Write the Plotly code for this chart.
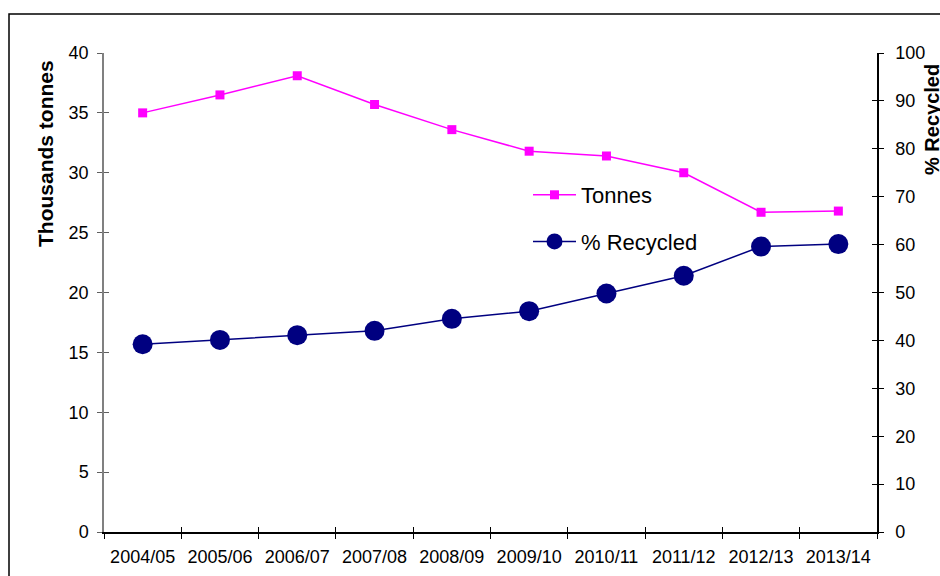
import plotly.graph_objects as go

# Municipal waste: tonnage collected and share recycled, by financial year
years = ["2004/05", "2005/06", "2006/07", "2007/08", "2008/09",
         "2009/10", "2010/11", "2011/12", "2012/13", "2013/14"]
tonnes_thousands = [35.0, 36.5, 38.1, 35.7, 33.6, 31.8, 31.4, 30.0, 26.7, 26.8]
pct_recycled = [39.2, 40.1, 41.1, 42.0, 44.5, 46.1, 49.8, 53.5, 59.6, 60.1]

left_ticks = list(range(0, 41, 5))
right_ticks = list(range(0, 101, 10))

W, H = 940, 576
ML, MR, MT, MB = 104, 63, 53, 44
FONT = "Liberation Sans, Arial, sans-serif"

fig = go.Figure()

fig.add_trace(go.Scatter(
    x=years, y=tonnes_thousands, name="Tonnes", mode="lines+markers",
    line=dict(color="#FF00FF", width=1.5),
    marker=dict(symbol="square", size=9, color="#FF00FF"),
    legendgroup="a", xaxis="x", yaxis="y",
))
fig.add_trace(go.Scatter(
    x=years, y=pct_recycled, name="% Recycled", mode="lines+markers",
    line=dict(color="#000080", width=1.5),
    marker=dict(symbol="circle", size=20, color="#000080"),
    legendgroup="b", xaxis="x", yaxis="y2",
))

tick_font = dict(family=FONT, size=18, color="#000000")
n = len(years)
boundaries = [i - 0.5 for i in range(n + 1)]

fig.update_layout(
    width=W, height=H,
    margin=dict(l=ML, r=MR, t=MT, b=MB, autoexpand=False),
    paper_bgcolor="white", plot_bgcolor="white",
    font=dict(family=FONT, color="#000000"),
    showlegend=True,
    legend=dict(
        x=(528 - ML) / (W - ML - MR), y=(H - MB - 174) / (H - MT - MB),
        xanchor="left", yanchor="top",
        font=dict(family=FONT, size=22, color="#000000"),
        bgcolor="rgba(0,0,0,0)", borderwidth=0,
        itemwidth=43, tracegroupgap=15, traceorder="grouped",
    ),
    xaxis=dict(
        type="category", categoryorder="array", categoryarray=years,
        range=[-0.5, n - 0.5], tickson="boundaries", automargin=False,
        ticks="outside", ticklen=5, tickcolor="#000000", tickwidth=1,
        showline=True, linecolor="#000000", linewidth=1.5,
        showgrid=False, zeroline=False,
        tickfont=tick_font, ticklabelstandoff=8,
    ),
    # inner half of the crossing tick marks on the category axis
    xaxis2=dict(
        overlaying="x", side="bottom", anchor="y", range=[-0.5, n - 0.5],
        tickmode="array", tickvals=boundaries, showticklabels=False,
        ticks="inside", ticklen=5, tickcolor="#000000", tickwidth=1,
        showline=False, showgrid=False, zeroline=False, automargin=False,
    ),
    yaxis=dict(
        range=[0, 40], tickmode="array", tickvals=left_ticks, automargin=False,
        ticks="outside", ticklen=5, tickcolor="#606060", tickwidth=1,
        showline=True, linecolor="#808080", linewidth=1.5,
        showgrid=False, zeroline=False,
        tickfont=tick_font, ticklabelstandoff=5,
    ),
    yaxis3=dict(
        overlaying="y", side="left", anchor="x", range=[0, 40],
        tickmode="array", tickvals=left_ticks, showticklabels=False,
        ticks="inside", ticklen=5, tickcolor="#606060", tickwidth=1,
        showline=False, showgrid=False, zeroline=False, automargin=False,
    ),
    yaxis2=dict(
        overlaying="y", side="right", anchor="x", range=[0, 100],
        tickmode="array", tickvals=right_ticks, automargin=False,
        ticks="outside", ticklen=5, tickcolor="#000000", tickwidth=1,
        showline=True, linecolor="#000000", linewidth=1.5,
        showgrid=False, zeroline=False,
        tickfont=tick_font, ticklabelstandoff=8,
    ),
    yaxis4=dict(
        overlaying="y", side="right", anchor="x", range=[0, 100],
        tickmode="array", tickvals=right_ticks, showticklabels=False,
        ticks="inside", ticklen=5, tickcolor="#000000", tickwidth=1,
        showline=False, showgrid=False, zeroline=False, automargin=False,
    ),
)

# invisible helpers so the overlay axes are drawn
fig.add_trace(go.Scatter(x=[0], y=[0], xaxis="x2", yaxis="y3", mode="none",
                         showlegend=False, hoverinfo="skip"))
fig.add_trace(go.Scatter(x=[0], y=[0], xaxis="x", yaxis="y4", mode="none",
                         showlegend=False, hoverinfo="skip"))

pw = W - ML - MR
ph = H - MT - MB

# outer chart frame (runs off the right and bottom edges)
fig.add_shape(type="rect", xref="paper", yref="paper",
              x0=(9 - ML) / pw, x1=(W + 20 - ML) / pw,
              y0=(H - MB - (H + 20)) / ph, y1=(H - MB - 14) / ph,
              line=dict(color="#000000", width=1.5), fillcolor="rgba(0,0,0,0)",
              layer="below")

fig.add_annotation(
    text="<b>Thousands tonnes</b>", textangle=-90, showarrow=False,
    xref="paper", yref="paper",
    x=(45 - ML) / pw, y=(H - MB - 154) / ph, xanchor="center", yanchor="middle",
    font=dict(family=FONT, size=21, color="#000000"),
)
fig.add_annotation(
    text="<b>% Recycled</b>", textangle=-90, showarrow=False,
    xref="paper", yref="paper",
    x=(932 - ML) / pw, y=(H - MB - 120) / ph, xanchor="center", yanchor="middle",
    font=dict(family=FONT, size=20, color="#000000"),
)

fig.write_html("out.html")
